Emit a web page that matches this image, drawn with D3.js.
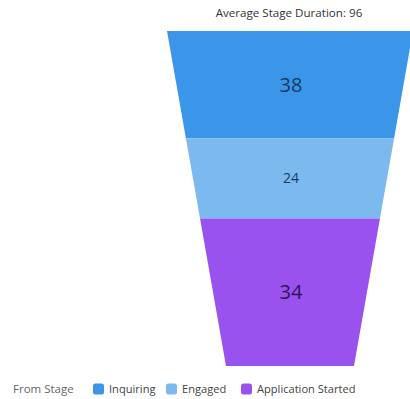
<!DOCTYPE html>
<html>
<head>
<meta charset="utf-8">
<script src="https://cdn.jsdelivr.net/npm/d3@7"></script>
<style>
html,body{margin:0;padding:0;background:#fff;}
svg{display:block;font-family:"Open Sans","Liberation Sans",sans-serif;}
</style>
</head>
<body>
<svg id="chart" width="410" height="399"></svg>
<script>
const stages = ["Inquiring", "Engaged", "Application Started"];
const durations = [38, 24, 34];
const stageShares = [32, 24, 44];
const colors = ["#3b95e9", "#7bb9ee", "#9a52ef"];
const labelColors = ["#173a63", "#1e3a5a", "#2e1258"];
const labelSizes = [20, 14, 20];
const titleText = "Average Stage Duration: " + d3.sum(durations);
const legendTitle = "From Stage";

(function () {
const svg = d3.select("#chart");
const yTop = 31, yBottom = 366, cx = 290;
const topWidth = 246, bottomWidth = 128;

const total = d3.sum(stageShares);
const y = d3.scaleLinear().domain([0, total]).range([yTop, yBottom]);
const halfW = d3.scaleLinear().domain([0, total]).range([topWidth / 2, bottomWidth / 2]);

let cum = 0;
const segs = stages.map((s, i) => {
  const a = cum; cum += stageShares[i];
  return {stage: s, value: durations[i], a, b: cum, i};
});

svg.append("text")
  .attr("x", cx - 1).attr("y", 17)
  .attr("text-anchor", "middle")
  .attr("font-size", 11.6)
  .attr("fill", "#333")
  .text(titleText);

const g = svg.append("g");
g.selectAll("path.seg").data(segs).join("path")
  .attr("class", "seg")
  .attr("fill", d => colors[d.i])
  .attr("d", d => {
    const y0 = y(d.a), y1 = y(d.b);
    return `M${cx - halfW(d.a)},${y0}L${cx + halfW(d.a)},${y0}L${cx + halfW(d.b)},${y1}L${cx - halfW(d.b)},${y1}Z`;
  });

g.selectAll("text.lbl").data(segs).join("text")
  .attr("class", "lbl")
  .attr("x", cx + 1)
  .attr("y", d => (y(d.a) + y(d.b)) / 2)
  .attr("dy", "0.35em")
  .attr("text-anchor", "middle")
  .attr("font-size", d => labelSizes[d.i])
  .attr("fill", d => labelColors[d.i])
  .text(d => d.value);

const leg = svg.append("g").attr("transform", "translate(0,389)");
leg.append("text").attr("x", 13).attr("y", 0).attr("dy", "0.35em")
  .attr("font-size", 11.5).attr("fill", "#666").text(legendTitle);
const legX = [93, 166, 241];
const items = leg.selectAll("g.item").data(stages).join("g")
  .attr("class", "item")
  .attr("transform", (d, i) => `translate(${legX[i]},0)`);
items.append("rect").attr("x", 0).attr("y", -5.5).attr("width", 11).attr("height", 11)
  .attr("rx", 2.5).attr("fill", (d, i) => colors[i]);
items.append("text").attr("x", 16).attr("y", 0).attr("dy", "0.35em")
  .attr("font-size", 11.1).attr("fill", "#444").text(d => d);
})();
</script>
</body>
</html>
